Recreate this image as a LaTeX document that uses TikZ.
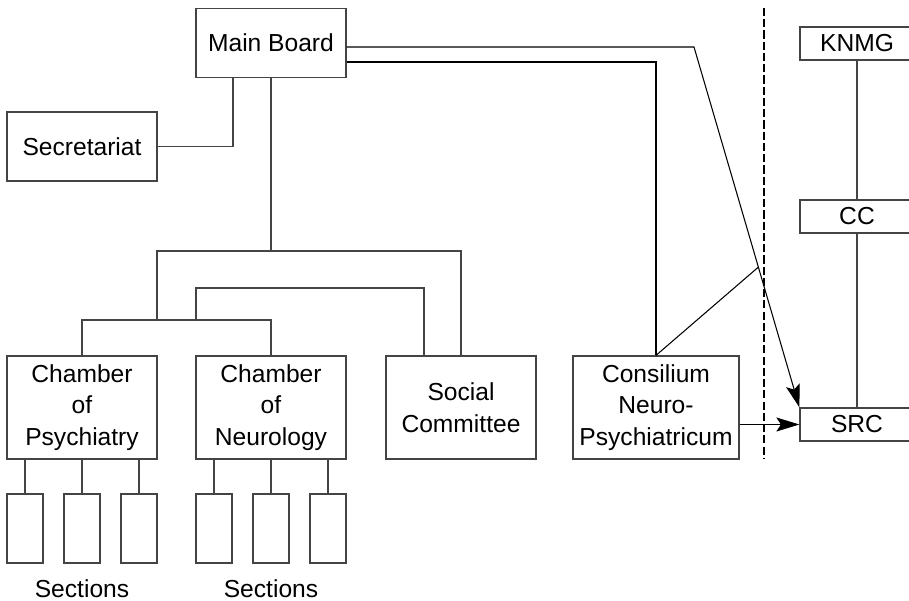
\documentclass[tikz,border=0pt]{standalone}
\usepackage{fontspec}
\setmainfont{Liberation Sans}
\usepackage{tikz}
\usetikzlibrary{arrows.meta, positioning, calc}
\definecolor{boxline}{HTML}{444444}

\begin{document}
\begin{tikzpicture}[
    font=\fontsize{14}{18}\selectfont,
    unit/.style={draw=boxline, line width=0.7pt, minimum width=3.0cm,
        minimum height=2.06cm, align=center, inner sep=0pt},
    headunit/.style={unit, minimum height=1.38cm},
    extunit/.style={unit, minimum width=2.28cm, minimum height=0.66cm},
    section/.style={draw=boxline, line width=0.7pt, minimum width=0.72cm,
        minimum height=1.38cm, inner sep=0pt},
    seclab/.style={anchor=base, inner sep=0pt},
    tree/.style={draw=boxline, line width=0.6pt},
    link/.style={draw=black, line width=0.6pt},
    flow/.style={link, -{Stealth[length=4.6mm, width=2.8mm, inset=0.9mm]}},
    border/.style={draw=black, line width=1.4pt, dash pattern=on 4.6pt off 1.8pt}
]
\useasboundingbox (0,0) rectangle (18.18,-12.02);

% =====================================================
% ASSOCIATION (LEFT OF THE BORDER)
% =====================================================

% Board and secretariat
\node[headunit] (board) at (5.42,-0.86) {Main Board};
\node[headunit] (secr)  at (1.64,-2.93) {Secretariat};

% Chambers and committee
\node[unit] (psych)  at (1.64,-8.15) {Chamber\\of\\Psychiatry};
\node[unit] (neuro)  at (5.42,-8.15) {Chamber\\of\\Neurology};
\node[unit] (social) at (9.22,-8.15) {Social\\Committee};

% Consilium
\node[unit, minimum width=3.32cm] (consil) at (13.12,-8.15) {Consilium\\Neuro-\\Psychiatricum};

% Sections under each chamber
\foreach \ch in {psych, neuro} {
    \foreach \k [count=\i] in {-1.14, 0, 1.14} {
        \node[section] (\ch-s\i) at ($(\ch.center)+(\k,-2.42)$) {};
        \draw[tree] (\ch-s\i.north) -- (\ch-s\i.north |- \ch.south);
    }
}
\node[seclab] (psychlab) at (1.64,-11.95) {Sections};
\node[seclab] (neurolab) at (5.42,-11.95) {Sections};

% Junctions of the tree
\coordinate (jtop)  at (5.42,-5.02);
\coordinate (jleft) at (3.14,-6.4);
\coordinate (jmid)  at (3.92,-6.4);
\coordinate (jsoc)  at (8.48,-5.76);

% Tree lines
\draw[tree] ([xshift=-0.76cm]board.south) |- (secr.east);
\draw[tree] (board.south) -- (jtop);
\draw[tree] (psych.north) |- (jleft) -| (neuro.north);
\draw[tree] (jleft) |- (jtop) -| (social.north);
\draw[tree] (jmid) |- (jsoc) -- (jsoc |- social.north);

% =====================================================
% UMBRELLA BODIES (RIGHT OF THE BORDER)
% =====================================================

\node[extunit] (knmg) at (17.14,-0.87) {KNMG};
\node[extunit] (cc)   at (17.14,-4.33) {CC};
\node[extunit] (src)  at (17.14,-8.49) {SRC};

\draw[tree] (knmg.south) -- (cc.north);
\draw[tree] (cc.south) -- (src.north);

% Border between the two
\coordinate (dtop) at (15.28,-0.16);
\coordinate (dbot) at (15.28,-9.18);
\draw[border] (dtop) -- (dbot);

% Links across the border
\coordinate (bend)  at (13.88,-0.94);
\coordinate (jcons) at (15.17,-5.34);
\draw[flow] ([yshift=-0.08cm]board.east) -- (bend) -- (src.north west);
\draw[link] ([yshift=-0.38cm]board.east) -| (consil.north);
\draw[link] (consil.north) -- (jcons);
\draw[flow] (consil.east |- src.west) -- (src.west);

\end{tikzpicture}
\end{document}
